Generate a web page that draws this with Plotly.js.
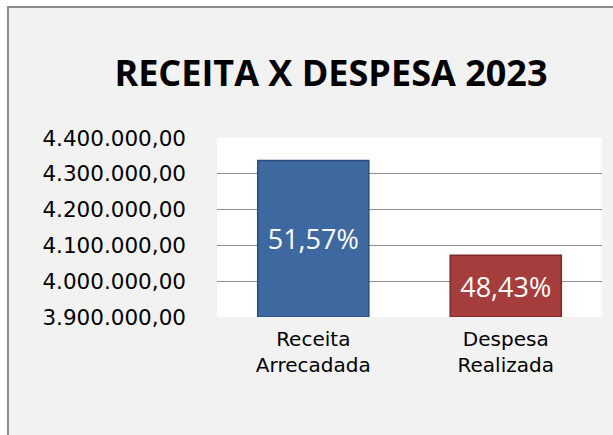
<!DOCTYPE html>
<html>
<head>
<meta charset="utf-8">
<script src="https://cdn.plot.ly/plotly-3.0.1.min.js"></script>
<style>
  html, body { margin: 0; padding: 0; background: #ffffff; width: 613px; height: 435px; overflow: hidden; }
  #frame { position: absolute; left: 7px; top: 6px; width: 604px; height: 427px;
           border-left: 2px solid #8c8c8c; border-top: 2px solid #8c8c8c; background: #f2f2f2; }
  #chart { width: 604px; height: 427px; }
</style>
</head>
<body>
<div id="frame"><div id="chart"></div></div>
<script>
const categories = ["Receita<br>Arrecadada", "Despesa<br>Realizada"];
const values = [4337200, 4072200];
const percentLabels = ["51,57%", "48,43%"];
const barColors = ["#3e69a0", "#a43d3b"];
const barEdges = ["#2b4d78", "#7a2a28"];
const yTicks = [3900000, 4000000, 4100000, 4200000, 4300000, 4400000];
const axisMin = 3900000;
const axisMax = 4400000;

const trace = {
  type: "bar",
  x: categories,
  base: axisMin,
  y: values.map(v => v - axisMin),
  text: percentLabels,
  textposition: "inside",
  insidetextanchor: "middle",
  textangle: 0,
  constraintext: "none",
  insidetextfont: { family: "Open Sans, sans-serif", size: 27, color: "#ffffff" },
  marker: { color: barColors, line: { color: barEdges, width: 1.5 } },
  hoverinfo: "none"
};

const layout = {
  width: 604,
  height: 427,
  paper_bgcolor: "#f2f2f2",
  plot_bgcolor: "#ffffff",
  separators: ",.",
  margin: { l: 208, r: 11, t: 129.5, b: 118.3, pad: 0 },
  bargap: 0.423,
  showlegend: false,
  title: {
    text: "<b>RECEITA X DESPESA 2023</b>",
    font: { family: "Open Sans, sans-serif", size: 36, color: "#000000" },
    x: 0.533, xanchor: "center",
    y: 0.848, yanchor: "middle"
  },
  xaxis: {
    type: "category",
    showgrid: false,
    showline: false,
    zeroline: false,
    ticks: "",
    tickfont: { family: "DejaVu Sans, sans-serif", size: 20, color: "#000000" },
    ticklabelstandoff: 8
  },
  yaxis: {
    range: [axisMin, axisMax],
    tickvals: yTicks,
    tickformat: ",.2f",
    showgrid: true,
    gridcolor: "#909090",
    gridwidth: 1.3,
    zeroline: false,
    showline: false,
    ticks: "",
    ticklabelstandoff: 30,
    tickfont: { family: "DejaVu Sans, sans-serif", size: 21.5, color: "#000000" }
  }
};

Plotly.newPlot("chart", [trace], layout, { displayModeBar: false, staticPlot: true });
</script>
</body>
</html>
